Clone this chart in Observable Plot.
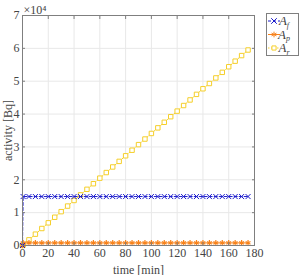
<!DOCTYPE html>
<html><head><meta charset="utf-8">
<script src="https://cdn.jsdelivr.net/npm/d3@7"></script>
<script src="https://cdn.jsdelivr.net/npm/@observablehq/plot@0.6"></script>
<style>
html,body{margin:0;padding:0;background:#fff;}
#chart{position:relative;width:300px;height:275px;}
</style></head>
<body><div id="chart"></div>
<script>
const time = [0,0.5,5,10,15,20,25,30,35,40,45,50,55,60,65,70,75,80,85,90,95,100,105,110,115,120,125,130,135,140,145,150,155,160,165,170,175];
const Af = [0,14900,14900,14900,14900,14900,14900,14900,14900,14900,14900,14900,14900,14900,14900,14900,14900,14900,14900,14900,14900,14900,14900,14900,14900,14900,14900,14900,14900,14900,14900,14900,14900,14900,14900,14900,14900];
const Ap = [0,800,800,800,800,800,800,800,800,800,800,800,800,800,800,800,800,800,800,800,800,800,800,800,800,800,800,800,800,800,800,800,800,800,800,800,800];
const Ar = [0,170,1720,3450,5170,6900,8600,10300,12000,13700,15400,17100,18800,20500,22200,23900,25600,27300,29000,30700,32400,34100,35800,37500,39200,40900,42600,44300,46000,47700,49300,51000,52700,54400,56100,57800,59500];
const xTicks = [0,20,40,60,80,100,120,140,160,180];
const yTicks = [0,10000,20000,30000,40000,50000,60000,70000];
const seriesNames = ["f","p","r"];
const colors = ["#1a1acc","#f7821b","#f5cf2a"];

const rows = (ys) => time.map((t,i)=>({t, v: ys[i]}));
const dF = rows(Af), dP = rows(Ap), dR = rows(Ar);
const font = "'Liberation Serif', 'DejaVu Serif', serif";

const plot = Plot.plot({
  width: 300, height: 275,
  marginLeft: 22, marginRight: 46, marginTop: 15, marginBottom: 30,
  style: {fontFamily: font, fontSize: "12px", color: "#444", background: "#fff"},
  x: {domain: [0,180]},
  y: {domain: [0,70000]},
  marks: [
    Plot.gridX(xTicks, {stroke: "#e8e8e8", strokeOpacity: 1}),
    Plot.gridY(yTicks, {stroke: "#e8e8e8", strokeOpacity: 1}),
    Plot.lineY(dR, {x:"t", y:"v", stroke: colors[2], strokeWidth: 1, strokeDasharray: "1.5,1.5"}),
    Plot.dot(dR, {x:"t", y:"v", symbol: "square", r: 2.5, stroke: colors[2], strokeWidth: 1, fill: "#fff"}),
    Plot.lineY(dP, {x:"t", y:"v", stroke: colors[1], strokeWidth: 1}),
    Plot.dot(dP, {x:"t", y:"v", symbol: "asterisk", r: 2.6, stroke: colors[1], strokeWidth: 1.2}),
    Plot.lineY(dF, {x:"t", y:"v", stroke: colors[0], strokeWidth: 1, strokeDasharray: "3,2"}),
    Plot.dot(dF, {x:"t", y:"v", symbol: "times", r: 2.4, stroke: colors[0], strokeWidth: 1}),
    Plot.frame({stroke: "#7f7f7f", strokeWidth: 1}),
    Plot.axisX(xTicks, {tickSize: -3, tickPadding: 6, stroke:"#7f7f7f", label: "time [min]", labelAnchor: "center", labelArrow: "none", labelOffset: 28}),
    Plot.axisY(yTicks, {tickSize: -3, tickPadding: 6, stroke:"#7f7f7f", tickFormat: d => String(d/10000), label: "activity [Bq]", labelAnchor: "center", labelArrow: "none", labelOffset: 19}),
    Plot.axisX(xTicks, {anchor: "top", tickSize: -3, stroke:"#7f7f7f", tickFormat: () => "", label: null}),
    Plot.axisY(yTicks, {anchor: "right", tickSize: -3, stroke:"#7f7f7f", tickFormat: () => "", label: null}),
    Plot.text(["×10⁴"], {frameAnchor: "top-left", dx: 1, dy: -10, textAnchor: "start", fontSize: 12, fill: "#444"})
  ]
});
document.getElementById("chart").appendChild(plot);

// legend
const svg = d3.select(plot);
const lg = svg.append("g").attr("font-family", font);
lg.append("rect").attr("x", 266.5).attr("y", 13.5).attr("width", 32).attr("height", 42)
  .attr("fill", "#fff").attr("stroke", "#7f7f7f").attr("stroke-width", 1);
const sym = [d3.symbolTimes, d3.symbolAsterisk, d3.symbolSquare2];
const dash = ["3,2", null, "1.5,1.5"];
seriesNames.forEach((s, i) => {
  const y = 21 + i * 13.5;
  const ln = lg.append("line").attr("x1", 268).attr("x2", 280).attr("y1", y).attr("y2", y)
    .attr("stroke", colors[i]).attr("stroke-width", 1);
  if (dash[i]) ln.attr("stroke-dasharray", dash[i]);
  lg.append("path").attr("transform", `translate(274,${y})`)
    .attr("d", d3.symbol(sym[i], 22)()).attr("fill", "#fff").attr("stroke", colors[i]).attr("stroke-width", 1);
  const t = lg.append("text").attr("x", 284).attr("y", y + 4).attr("font-size", 13).attr("fill", "#444").attr("font-style", "italic");
  t.append("tspan").text("A");
  t.append("tspan").attr("font-size", 8).attr("dy", 2.5).text(s);
});
</script>
</body></html>
